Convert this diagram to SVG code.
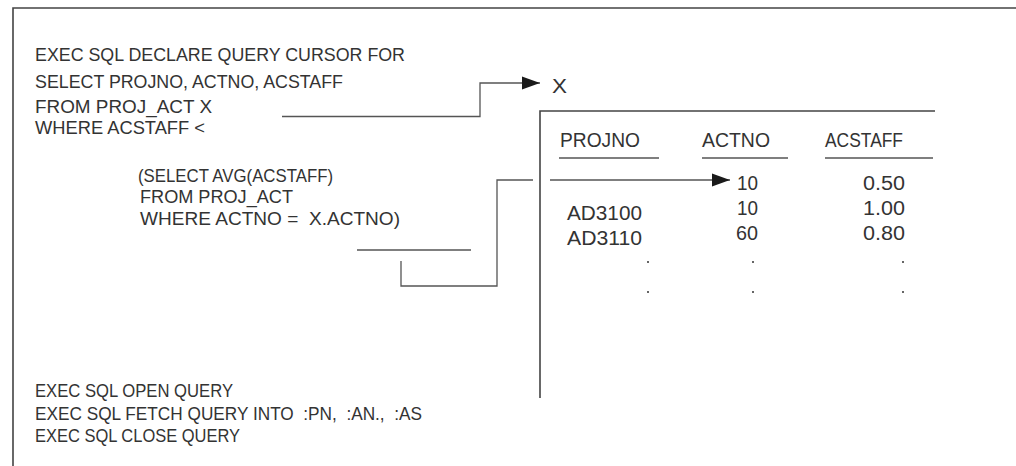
<svg xmlns="http://www.w3.org/2000/svg" width="1016" height="466" viewBox="0 0 1016 466">
<style>
.t{font-family:"Liberation Sans",Arial,sans-serif;font-size:18px;fill:#333}
.tb{font-family:"Liberation Sans",Arial,sans-serif;font-size:19.5px;fill:#333}
.ln{fill:none;stroke:#555;stroke-width:1.3}
.fr{fill:none;stroke:#444;stroke-width:1.6}
</style>
<defs>
<marker id="ah" markerUnits="userSpaceOnUse" markerWidth="18" markerHeight="14" refX="18" refY="7" orient="auto">
<polygon points="0,0.5 18,7 0,13.5" fill="#1a1a1a"/>
</marker>
</defs>
<rect width="1016" height="466" fill="#fff"/>
<g id="frame">
<path class="fr" d="M1016,8 H13 V466"/>
</g>
<g id="code">
<text class="t" x="35" y="61" textLength="370" lengthAdjust="spacingAndGlyphs">EXEC SQL DECLARE QUERY CURSOR FOR</text>
<text class="t" x="35" y="88" textLength="308" lengthAdjust="spacingAndGlyphs">SELECT PROJNO, ACTNO, ACSTAFF</text>
<text class="t" x="35" y="113" textLength="177" lengthAdjust="spacingAndGlyphs">FROM PROJ_ACT X</text>
<text class="t" x="35" y="134" textLength="170" lengthAdjust="spacingAndGlyphs">WHERE ACSTAFF &lt;</text>
<text class="t" x="138" y="182" textLength="195" lengthAdjust="spacingAndGlyphs">(SELECT AVG(ACSTAFF)</text>
<text class="t" x="140" y="203" textLength="153" lengthAdjust="spacingAndGlyphs">FROM PROJ_ACT</text>
<text class="t" x="140" y="225" textLength="260" lengthAdjust="spacingAndGlyphs" xml:space="preserve">WHERE ACTNO =  X.ACTNO)</text>
<text class="t" x="35" y="397" textLength="198" lengthAdjust="spacingAndGlyphs">EXEC SQL OPEN QUERY</text>
<text class="t" x="35" y="420" textLength="387" lengthAdjust="spacingAndGlyphs" xml:space="preserve">EXEC SQL FETCH QUERY INTO  :PN,  :AN.,  :AS</text>
<text class="t" x="35" y="442" textLength="205" lengthAdjust="spacingAndGlyphs">EXEC SQL CLOSE QUERY</text>
</g>
<g id="x-label">
<text class="tb" x="552" y="93" textLength="15" lengthAdjust="spacingAndGlyphs">X</text>
</g>
<g id="table">
<path class="fr" d="M935,111 H540 V398"/>
<text class="tb" x="560" y="147" textLength="80" lengthAdjust="spacingAndGlyphs">PROJNO</text>
<text class="tb" x="702" y="147" textLength="68" lengthAdjust="spacingAndGlyphs">ACTNO</text>
<text class="tb" x="825" y="147" textLength="78" lengthAdjust="spacingAndGlyphs">ACSTAFF</text>
<path class="ln" d="M559,158 H659 M702,158 H788 M825,158 H933"/>
<text class="tb" x="737" y="190" textLength="21" lengthAdjust="spacingAndGlyphs">10</text>
<text class="tb" x="863" y="190" textLength="42" lengthAdjust="spacingAndGlyphs">0.50</text>
<text class="tb" x="567" y="220" textLength="75" lengthAdjust="spacingAndGlyphs">AD3100</text>
<text class="tb" x="737" y="215" textLength="21" lengthAdjust="spacingAndGlyphs">10</text>
<text class="tb" x="863" y="215" textLength="42" lengthAdjust="spacingAndGlyphs">1.00</text>
<text class="tb" x="567" y="245" textLength="75" lengthAdjust="spacingAndGlyphs">AD3110</text>
<text class="tb" x="736" y="240" textLength="22" lengthAdjust="spacingAndGlyphs">60</text>
<text class="tb" x="863" y="240" textLength="42" lengthAdjust="spacingAndGlyphs">0.80</text>
<g fill="#333">
<circle cx="648" cy="262" r="1"/><circle cx="753" cy="262" r="1"/><circle cx="903" cy="262" r="1"/>
<circle cx="648" cy="292" r="1"/><circle cx="753" cy="292" r="1"/><circle cx="903" cy="292" r="1"/>
</g>
</g>
<g id="connectors">
<path class="ln" d="M282,116.5 H480 V83 H540" marker-end="url(#ah)"/>
<path class="ln" d="M357,250 H471"/>
<path class="ln" d="M401,261 V286 H497 V180 H533"/>
<path class="ln" d="M550,180 H730" marker-end="url(#ah)"/>
</g>
</svg>
